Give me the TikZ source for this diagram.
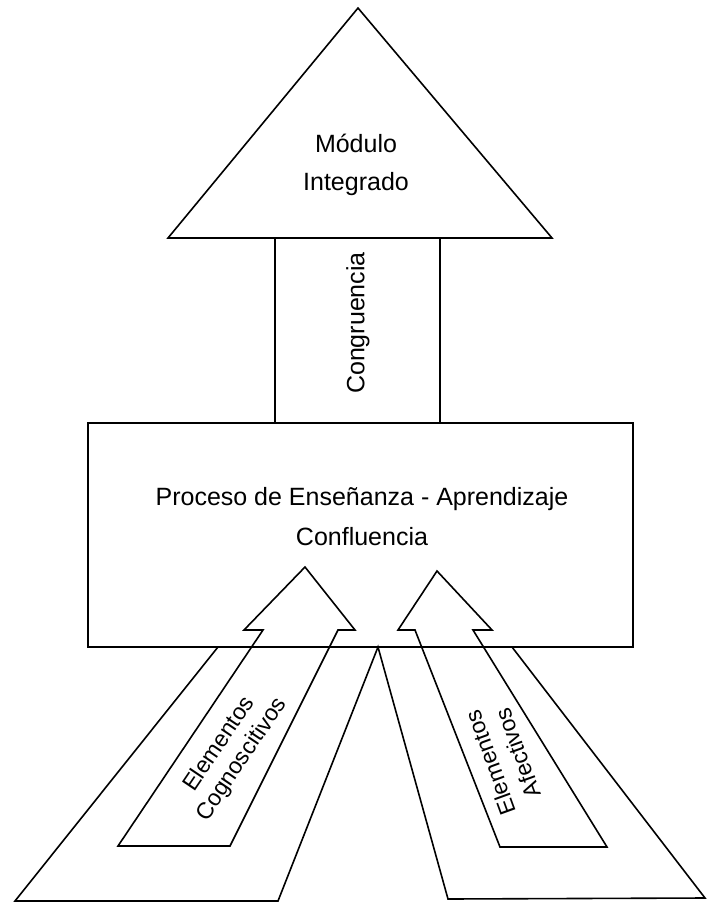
\documentclass[tikz,border=0pt]{standalone}
\usepackage{fontspec}
\setmainfont{Liberation Sans}
\usepackage{tikz}

\begin{document}
\begin{tikzpicture}[x=1pt, y=-1pt, line width=1.6pt,
    every node/.style={font=\fontsize{25}{38}\selectfont, align=center, inner sep=0pt}]
    \useasboundingbox (0,0) rectangle (707,903);

    % Draw triangle and column
    \draw (168,238) -- (358,8) -- (552,238) -- cycle;
    \draw (275,238) -- (275,423);
    \draw (440,238) -- (440,423);

    % Draw box
    \draw (88,423) rectangle (633,647);

    % Draw inner arrows
    \draw (118,846) -- (263,630) -- (244,630) -- (305,567) -- (355,630)
        -- (338,630) -- (230,846) -- cycle;
    \draw (500,847) -- (415,630) -- (398,630) -- (437,571) -- (492,630)
        -- (473,630) -- (607,847) -- cycle;

    % Draw outer bands
    \draw (218,647) -- (15,901) -- (278,901) -- (378,647) -- (448,899)
        -- (705,898) -- (512,647);

    % Draw labels
    \node (modulo) at (356,165) {Módulo\\Integrado};
    \node[rotate=90] (congruencia) at (358,323) {Congruencia};
    \node[font=\fontsize{25}{40}\selectfont] (proceso) at (362,517) {Proceso de Enseñanza - Aprendizaje\\Confluencia};
    \node[rotate=56, font=\fontsize{23}{27}\selectfont] (cognos) at (231,752) {Elementos\\Cognoscitivos};
    \node[rotate=110, font=\fontsize{23}{29}\selectfont] (afect) at (504,758) {Elementos\\Afectivos};
\end{tikzpicture}
\end{document}
